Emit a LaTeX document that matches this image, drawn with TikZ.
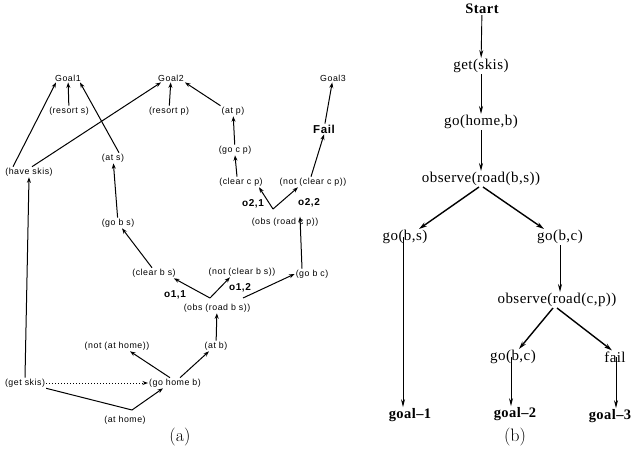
\documentclass[tikz,border=0pt]{standalone}
\usepackage{fontspec}
\newfontfamily\asf[LetterSpace=6]{Liberation Sans}
\newfontfamily\tms[LetterSpace=3]{Liberation Serif}
\usetikzlibrary{arrows.meta}
\begin{document}
\begin{tikzpicture}[x=1pt,y=-1pt,
  la/.style={font=\asf\fontsize{8.8}{10}\selectfont, inner sep=1pt},
  lo/.style={font=\asf\bfseries\fontsize{10}{11}\selectfont, inner sep=1pt},
  lb/.style={font=\tms\fontsize{15}{17}\selectfont, inner sep=1pt},
  lbb/.style={font=\tms\bfseries\fontsize{14.5}{17}\selectfont, inner sep=1pt},
  captxt/.style={font=\fontsize{18}{20}\selectfont, inner sep=0pt},
  ar/.style={-{Stealth[length=5.5pt,width=4pt]}, line width=1pt},
  ln/.style={line width=1pt},
  arb/.style={-{Stealth[length=8pt,width=4pt]}, line width=0.9pt},
  arbt/.style={-{Stealth[length=8pt,width=4.5pt]}, line width=1.4pt},
]
\useasboundingbox[fill=white] (0,0) rectangle (637,455);

% ---------- (a) ----------
\node[la] (g1)   at (68,78)   {Goal1};
\node[la] (rs)   at (69,111)  {(resort s)};
\node[la] (g2)   at (171,78)  {Goal2};
\node[la] (rp)   at (169,111) {(resort p)};
\node[la] (ap)   at (233,111) {(at p)};
\node[la] (g3)   at (333,78)  {Goal3};
\node[la] (gcp)  at (235,150) {(go c p)};
\node[lo, font=\asf\bfseries\fontsize{11.5}{12}\selectfont] (fail) at (324,129) {Fail};
\node[la] (ccp)  at (241,182) {(clear c p)};
\node[la] (nccp) at (313,182) {(not (clear c p))};
\node[lo] (o21)  at (253,204) {o2,1};
\node[lo] (o22)  at (309,203) {o2,2};
\coordinate (v2) at (273,209);
\node[la] (ocp)  at (285,222) {(obs (road c p))};
\node[la] (hs)   at (29,172)  {(have skis)};
\node[la] (as)   at (113,158) {(at s)};
\node[la] (gbs)  at (118,223) {(go b s)};
\node[la] (cbs)  at (154,273) {(clear b s)};
\node[la] (ncbs) at (242,272) {(not (clear b s))};
\node[la] (gbc)  at (312,274) {(go b c)};
\node[lo] (o11)  at (175,295) {o1,1};
\node[lo] (o12)  at (240,288) {o1,2};
\coordinate (v1) at (210,298);
\coordinate (o12s) at (243,298);
\node[la] (obs)  at (217,308) {(obs (road b s))};
\node[la] (nah)  at (117,346) {(not (at home))};
\node[la] (ab)   at (216,346) {(at b)};
\node[la] (gs)   at (25,383)  {(get skis)};
\node[la] (ghb)  at (175,383) {(go home b)};
\coordinate (v0) at (132,410);
\node[la] (ah)   at (125,420) {(at home)};
\node[captxt] (capa) at (180,437) {(a)};

\draw[ar] ([xshift=-16pt]hs.north) -- ([xshift=-12pt]g1.south);
\draw[ar] (rs) -- (g1);
\draw[ar] ([xshift=6pt]as.north) -- ([xshift=12pt]g1.south);
\draw[ar] ([xshift=3pt]hs.north) -- ([xshift=-10pt]g2.south);
\draw[ar] (rp) -- (g2);
\draw[ar] (ap.north west) -- (g2.south east);
\draw[ar] (gcp) -- (ap);
\draw[ar] ([xshift=-4pt]ccp.north) -- (gcp.south);
\draw[ar] ([xshift=-2pt]nccp.north) -- (fail.south);
\draw[ar] (fail) -- (g3);
\draw[ar] (v2) -- ([xshift=18pt]ccp.south);
\draw[ar] (v2) -- ([xshift=-15pt]nccp.south);
\draw[ar] ([xshift=-10pt]gbc.north) -- ([xshift=15pt]ocp.north);
\draw[ar] (gbs) -- (as);
\draw[ar] ([xshift=-2pt]cbs.north) -- ([xshift=4pt]gbs.south);
\draw[ar] (v1) -- ([xshift=-3pt]cbs.south east);
\draw[ar] (v1) -- ([xshift=-12pt]ncbs.south);
\draw[ar] (o12s) -- (gbc.west);
\draw[ar] (ab) -- (obs);
\draw[ar] ([xshift=-5pt]ghb.north) -- ([xshift=13pt]nah.south);
\draw[ar] ([xshift=5pt]ghb.north) -- ([xshift=-7pt]ab.south);
\draw[ar, dotted] (gs) -- (ghb);
\draw[ar] (gs.north) -- (hs.south);
\draw[ln] (gs.south east) -- (v0);
\draw[ar] (v0) -- ([xshift=-12pt]ghb.south);

% ---------- (b) ----------
\node[lbb] (st) at (482,9) {Start};
\node[lb] (gk)   at (481,66)  {get(skis)};
\node[lb] (gh)   at (481,122) {go(home,b)};
\node[lb] (ob)   at (481,179) {observe(road(b,s))};
\node[lb] (gbs2) at (405,237) {go(b,s)};
\node[lb] (gbc2) at (560,237) {go(b,c)};
\node[lb] (ocp2) at (557,300) {observe(road(c,p))};
\node[lb] (gbc3) at (513,357) {go(b,c)};
\node[lb] (fl)   at (615,357) {fail};
\node[lbb] (g1b)  at (410,415) {goal–1};
\node[lbb] (g2b)  at (515,414) {goal–2};
\node[lbb] (g3b)  at (610,416) {goal–3};
\node[captxt] (capb) at (515,437) {(b)};

\draw[arb] (st) -- (gk);
\draw[arb] (gk) -- (gh);
\draw[arb] (gh) -- (ob);
\draw[arbt] ([xshift=-2pt]ob.south) -- ([xshift=14pt]gbs2.north);
\draw[arbt] ([xshift=2pt]ob.south) -- ([xshift=-16pt]gbc2.north);
\draw[arb] (gbc2.south) -- (gbc2.south |- ocp2.north);
\draw[arbt] ([xshift=-4pt]ocp2.south) -- ([xshift=6pt]gbc3.north);
\draw[arbt] (ocp2.south) -- ([xshift=-3pt]fl.north);
\draw[arb] ([xshift=-2pt]gbs2.center) -- ([xshift=-2pt]gbs2.center |- g1b.north);
\draw[arb] ([xshift=-2pt]gbc3.center) -- ([xshift=-2pt]gbc3.center |- g2b.north);
\draw[arb] ([xshift=1pt]fl.center) -- ([xshift=1pt]fl.center |- g3b.north);
\end{tikzpicture}
\end{document}
